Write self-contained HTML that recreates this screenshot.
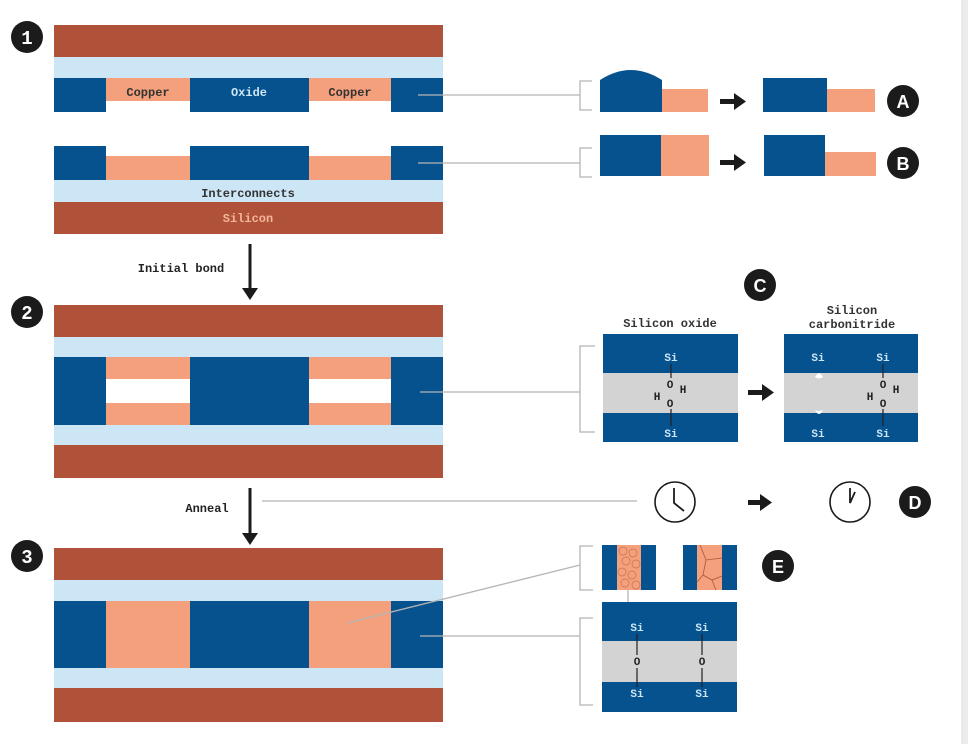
<!DOCTYPE html>
<html><head><meta charset="utf-8"><style>
html,body{margin:0;padding:0;background:#fff;width:968px;height:744px;overflow:hidden}
svg{display:block}
text{font-family:"Liberation Mono",monospace;font-weight:bold}
</style></head><body>
<svg width="968" height="744" viewBox="0 0 968 744" xmlns="http://www.w3.org/2000/svg">
<rect x="962" y="0" width="6" height="744" fill="#ececec"/>
<line x1="962" y1="0" x2="962" y2="744" stroke="#dcdcdc"/>
<defs>
<marker id="ah" markerWidth="10" markerHeight="10" refX="5" refY="5" orient="auto" markerUnits="userSpaceOnUse"></marker>
</defs>
<!-- numbered circles -->
<g font-family="Liberation Sans" font-weight="bold">
<circle cx="27" cy="37" r="16" fill="#1b1b1b"/><text x="27" y="44" text-anchor="middle" font-size="19" fill="#fff" font-family="Liberation Sans">1</text>
<circle cx="27" cy="312" r="16" fill="#1b1b1b"/><text x="27" y="319" text-anchor="middle" font-size="19" fill="#fff" font-family="Liberation Sans">2</text>
<circle cx="27" cy="556" r="16" fill="#1b1b1b"/><text x="27" y="563" text-anchor="middle" font-size="19" fill="#fff" font-family="Liberation Sans">3</text>
</g>
<!-- Panel 1 -->
<rect x="54" y="25" width="389" height="32" fill="#b0523a"/>
<rect x="54" y="57" width="389" height="21" fill="#cce6f5"/>
<rect x="54" y="78" width="52" height="34" fill="#06528f"/>
<rect x="106" y="78" width="84" height="23" fill="#f4a07c"/>
<rect x="190" y="78" width="119" height="34" fill="#06528f"/>
<rect x="309" y="78" width="82" height="23" fill="#f4a07c"/>
<rect x="391" y="78" width="52" height="34" fill="#06528f"/>
<text x="148" y="96" text-anchor="middle" font-size="12" fill="#333">Copper</text>
<text x="249" y="96" text-anchor="middle" font-size="12" fill="#cce6f5">Oxide</text>
<text x="350" y="96" text-anchor="middle" font-size="12" fill="#333">Copper</text>
<rect x="54" y="146" width="52" height="34" fill="#06528f"/>
<rect x="106" y="156" width="84" height="24" fill="#f4a07c"/>
<rect x="190" y="146" width="119" height="34" fill="#06528f"/>
<rect x="309" y="156" width="82" height="24" fill="#f4a07c"/>
<rect x="391" y="146" width="52" height="34" fill="#06528f"/>
<rect x="54" y="180" width="389" height="22" fill="#cce6f5"/>
<rect x="54" y="202" width="389" height="32" fill="#b0523a"/>
<text x="248" y="197" text-anchor="middle" font-size="12" fill="#333">Interconnects</text>
<text x="248" y="222" text-anchor="middle" font-size="12" fill="#f4b59a">Silicon</text>
<!-- arrow 1 -->
<line x1="250" y1="244" x2="250" y2="290" stroke="#1b1b1b" stroke-width="3"/>
<polygon points="242,288 258,288 250,300" fill="#1b1b1b"/>
<text x="181" y="272" text-anchor="middle" font-size="12" fill="#222">Initial bond</text>
<!-- Panel 2 -->
<rect x="54" y="305" width="389" height="32" fill="#b0523a"/>
<rect x="54" y="337" width="389" height="20" fill="#cce6f5"/>
<rect x="54" y="357" width="389" height="68" fill="#06528f"/>
<rect x="106" y="357" width="84" height="22" fill="#f4a07c"/>
<rect x="106" y="379" width="84" height="24" fill="#fff"/>
<rect x="106" y="403" width="84" height="22" fill="#f4a07c"/>
<rect x="309" y="357" width="82" height="22" fill="#f4a07c"/>
<rect x="309" y="379" width="82" height="24" fill="#fff"/>
<rect x="309" y="403" width="82" height="22" fill="#f4a07c"/>
<rect x="54" y="425" width="389" height="20" fill="#cce6f5"/>
<rect x="54" y="445" width="389" height="33" fill="#b0523a"/>
<!-- arrow 2 -->
<line x1="250" y1="488" x2="250" y2="535" stroke="#1b1b1b" stroke-width="3"/>
<polygon points="242,533 258,533 250,545" fill="#1b1b1b"/>
<text x="207" y="512" text-anchor="middle" font-size="12" fill="#222">Anneal</text>
<!-- Panel 3 -->
<rect x="54" y="548" width="389" height="32" fill="#b0523a"/>
<rect x="54" y="580" width="389" height="21" fill="#cce6f5"/>
<rect x="54" y="601" width="389" height="67" fill="#06528f"/>
<rect x="106" y="601" width="84" height="67" fill="#f4a07c"/>
<rect x="309" y="601" width="82" height="67" fill="#f4a07c"/>
<rect x="54" y="668" width="389" height="20" fill="#cce6f5"/>
<rect x="54" y="688" width="389" height="34" fill="#b0523a"/>
<!-- connectors -->
<g stroke="#b5b5b5" stroke-width="1.3" fill="none">
<line x1="418" y1="95" x2="580" y2="95"/>
<polyline points="592,81 580,81 580,110 592,110"/>
<line x1="418" y1="163" x2="580" y2="163"/>
<polyline points="592,148 580,148 580,177 592,177"/>
<line x1="420" y1="392" x2="580" y2="392"/>
<polyline points="595,346 580,346 580,432 595,432"/>
<line x1="262" y1="501" x2="637" y2="501"/>
<line x1="347" y1="623" x2="580" y2="565"/>
<polyline points="593,546 580,546 580,590 593,590"/>
<line x1="420" y1="636" x2="580" y2="636"/>
<polyline points="593,618 580,618 580,705 593,705"/>
<line x1="628" y1="590" x2="628" y2="612"/>
</g>
<!-- A -->
<path d="M600,112 L600,80 Q631,60 662,80 L662,112 Z" fill="#06528f"/>
<rect x="662" y="89" width="46" height="23" fill="#f4a07c"/>
<rect x="763" y="78" width="64" height="34" fill="#06528f"/>
<rect x="827" y="89" width="48" height="23" fill="#f4a07c"/>
<!-- B -->
<rect x="600" y="135" width="61" height="41" fill="#06528f"/>
<rect x="661" y="135" width="48" height="41" fill="#f4a07c"/>
<rect x="764" y="135" width="61" height="41" fill="#06528f"/>
<rect x="825" y="152" width="51" height="24" fill="#f4a07c"/>
<!-- arrows right -->
<g fill="#1b1b1b">
<rect x="720" y="99" width="16" height="5"/><polygon points="734,93 746,101.5 734,110"/>
<rect x="720" y="160" width="16" height="5"/><polygon points="734,154 746,162.5 734,171"/>
<rect x="748" y="390" width="16" height="5"/><polygon points="762,384 774,392.5 762,401"/>
<rect x="748" y="500" width="14" height="5"/><polygon points="760,494 772,502.5 760,511"/>
</g>
<!-- letter circles -->
<g font-family="Liberation Sans">
<circle cx="903" cy="101" r="16" fill="#1b1b1b"/><text x="903" y="108" text-anchor="middle" font-size="18" fill="#fff" style="font-family:'Liberation Sans'">A</text>
<circle cx="903" cy="163" r="16" fill="#1b1b1b"/><text x="903" y="170" text-anchor="middle" font-size="18" fill="#fff" style="font-family:'Liberation Sans'">B</text>
<circle cx="760" cy="285" r="16" fill="#1b1b1b"/><text x="760" y="292" text-anchor="middle" font-size="18" fill="#fff" style="font-family:'Liberation Sans'">C</text>
<circle cx="915" cy="502" r="16" fill="#1b1b1b"/><text x="915" y="509" text-anchor="middle" font-size="18" fill="#fff" style="font-family:'Liberation Sans'">D</text>
<circle cx="778" cy="566" r="16" fill="#1b1b1b"/><text x="778" y="573" text-anchor="middle" font-size="18" fill="#fff" style="font-family:'Liberation Sans'">E</text>
</g>
<!-- C -->
<text x="670" y="327" text-anchor="middle" font-size="12" fill="#333">Silicon oxide</text>
<text x="852" y="314" text-anchor="middle" font-size="12" fill="#333">Silicon</text>
<text x="852" y="328" text-anchor="middle" font-size="12" fill="#333">carbonitride</text>
<rect x="603" y="334" width="135" height="39" fill="#06528f"/>
<rect x="603" y="373" width="135" height="40" fill="#d3d3d3"/>
<rect x="603" y="413" width="135" height="29" fill="#06528f"/>
<rect x="784" y="334" width="134" height="39" fill="#06528f"/>
<rect x="784" y="373" width="134" height="40" fill="#d3d3d3"/>
<rect x="784" y="413" width="134" height="29" fill="#06528f"/>
<g font-size="11" text-anchor="middle">
<text x="671" y="361" fill="#cce6f5">Si</text><text x="671" y="437" fill="#cce6f5">Si</text>
<text x="818" y="361" fill="#cce6f5">Si</text><text x="818" y="437" fill="#cce6f5">Si</text>
<text x="883" y="361" fill="#cce6f5">Si</text><text x="883" y="437" fill="#cce6f5">Si</text>
<text x="670" y="388" fill="#222">O</text><text x="683" y="393" fill="#222">H</text>
<text x="657" y="400" fill="#222">H</text><text x="670" y="407" fill="#222">O</text>
<text x="883" y="388" fill="#222">O</text><text x="896" y="393" fill="#222">H</text>
<text x="870" y="400" fill="#222">H</text><text x="883" y="407" fill="#222">O</text>
</g>
<g stroke="#222" stroke-width="1.2">
<line x1="671" y1="364" x2="671" y2="378"/><line x1="671" y1="409" x2="671" y2="426"/>
<line x1="883" y1="364" x2="883" y2="378"/><line x1="883" y1="409" x2="883" y2="426"/>
</g>
<path d="M815,377 Q819,370 823,377 Q819,380 815,377Z" fill="#fff"/>
<path d="M815,410 Q819,412 823,410 Q819,418 815,410Z" fill="#fff"/>
<!-- D clocks -->
<circle cx="675" cy="502" r="20" fill="none" stroke="#1b1b1b" stroke-width="1.6"/>
<polyline points="674,488 674,503 684,511" fill="none" stroke="#1b1b1b" stroke-width="1.8"/>
<circle cx="850" cy="502" r="20" fill="none" stroke="#1b1b1b" stroke-width="1.6"/>
<polyline points="850,488 850,503 855,492" fill="none" stroke="#1b1b1b" stroke-width="1.8"/>
<!-- E -->
<rect x="602" y="545" width="54" height="45" fill="#06528f"/>
<rect x="617" y="545" width="24" height="45" fill="#f4a07c"/>
<g stroke="#c8714e" stroke-width="0.7" fill="none">
<circle cx="623" cy="551" r="4"/><circle cx="633" cy="553" r="4"/><circle cx="626" cy="561" r="4"/><circle cx="636" cy="564" r="4"/><circle cx="622" cy="572" r="4"/><circle cx="632" cy="575" r="4"/><circle cx="625" cy="583" r="4"/><circle cx="636" cy="585" r="4"/>
</g>
<rect x="683" y="545" width="54" height="45" fill="#06528f"/>
<rect x="697" y="545" width="25" height="45" fill="#f4a07c"/>
<g stroke="#b0523a" stroke-width="0.8" fill="none">
<polyline points="700,545 706,560 722,558"/><polyline points="706,560 703,575 697,582"/><polyline points="703,575 712,580 722,576"/><polyline points="712,580 716,590"/>
</g>
<rect x="602" y="602" width="135" height="39" fill="#06528f"/>
<rect x="602" y="641" width="135" height="41" fill="#d3d3d3"/>
<rect x="602" y="682" width="135" height="30" fill="#06528f"/>
<g font-size="11" text-anchor="middle">
<text x="637" y="631" fill="#cce6f5">Si</text><text x="702" y="631" fill="#cce6f5">Si</text>
<text x="637" y="665" fill="#222">O</text><text x="702" y="665" fill="#222">O</text>
<text x="637" y="697" fill="#cce6f5">Si</text><text x="702" y="697" fill="#cce6f5">Si</text>
</g>
<g stroke="#222" stroke-width="1.2">
<line x1="637" y1="634" x2="637" y2="655"/><line x1="637" y1="668" x2="637" y2="687"/>
<line x1="702" y1="634" x2="702" y2="655"/><line x1="702" y1="668" x2="702" y2="687"/>
</g>
</svg>
</body></html>
